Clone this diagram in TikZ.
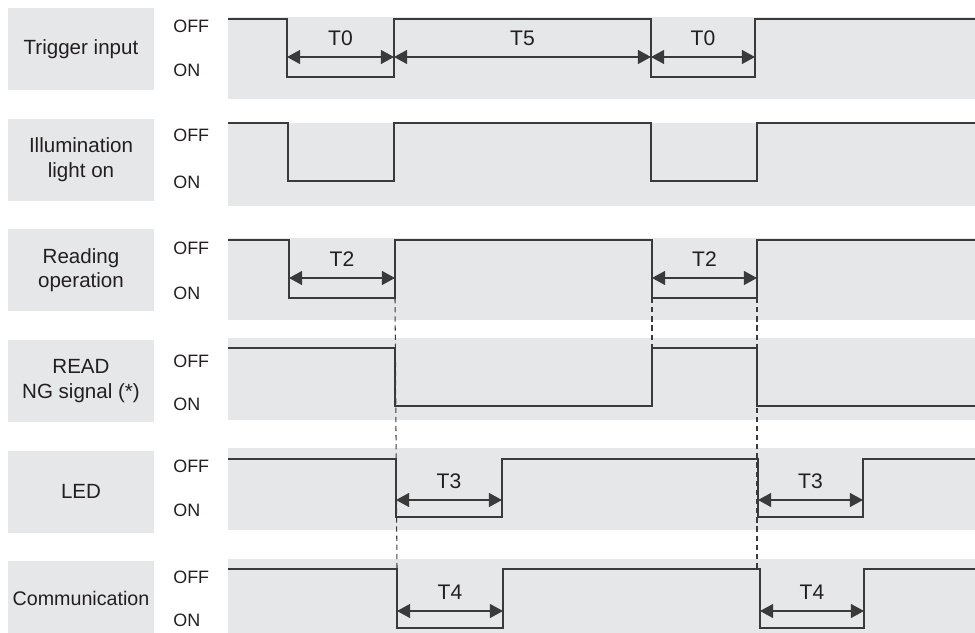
\documentclass[tikz,border=0pt]{standalone}
\usepackage{fontspec}
\setmainfont{Liberation Sans}
\usetikzlibrary{positioning, arrows.meta}
\definecolor{panelgray}{HTML}{E6E7E8}
\definecolor{wiregray}{HTML}{3A3A3A}
\definecolor{inkblack}{HTML}{231F20}

\begin{document}
\begin{tikzpicture}[x=0.02cm, y=-0.02cm, node distance=0.56cm,
  namebox/.style={fill=panelgray, minimum width=2.92cm, minimum height=1.64cm,
    align=center, inner sep=0pt, text=inkblack, font=\fontsize{11.7}{14}\selectfont},
  lvl/.style={anchor=west, inner sep=0pt, text=inkblack, font=\fontsize{10.2}{12}\selectfont},
  wave/.style={draw=wiregray, line width=0.7pt, line join=miter},
  span/.style={draw=wiregray, line width=0.65pt,
    {Triangle[length=7.5pt, width=8pt]}-{Triangle[length=7.5pt, width=8pt]}},
  tlbl/.style={above=0.22cm, inner sep=0pt, text=inkblack, font=\fontsize{12}{14}\selectfont},
  guide/.style={draw=wiregray, line width=0.6pt, dash pattern=on 3pt off 2.2pt}]
\useasboundingbox (0,0) rectangle (975,633);

% signal name boxes
\node[namebox] (trig) at (81,49) {Trigger input};
\node[namebox, below=of trig] (illum) {Illumination\\light on};
\node[namebox, below=of illum] (readop) {Reading\\operation};
\node[namebox, below=of readop] (readng) {READ\\NG signal (*)};
\node[namebox, below=of readng] (led) {LED};
\node[namebox, below=of led, minimum height=1.48cm,
      font=\fontsize{11.2}{14}\selectfont] (comm) {Communication};

% bands behind the waveforms
\fill[panelgray] (228,17) rectangle (975,99);
\fill[panelgray] (228,123) rectangle (975,206);
\fill[panelgray] (228,238) rectangle (975,320);
\fill[panelgray] (228,338) rectangle (975,420);
\fill[panelgray] (228,448) rectangle (975,530);
\fill[panelgray] (228,559) rectangle (975,633);

% OFF / ON levels
\node[lvl] (off1) at (173,26) {OFF};  \node[lvl] (on1) at (173,70) {ON};
\node[lvl] (off2) at (173,135) {OFF}; \node[lvl] (on2) at (173,182) {ON};
\node[lvl] (off3) at (173,248) {OFF}; \node[lvl] (on3) at (173,293) {ON};
\node[lvl] (off4) at (173,361) {OFF}; \node[lvl] (on4) at (173,404) {ON};
\node[lvl] (off5) at (173,466) {OFF}; \node[lvl] (on5) at (173,510) {ON};
\node[lvl] (off6) at (173,577) {OFF}; \node[lvl] (on6) at (173,620) {ON};

% waveforms
\draw[wave] (228,19) -- (287,19) -- (287,77) -- (394,77) -- (394,19) -- (651,19)
  -- (651,77) -- (755,77) -- (755,19) -- (975,19);
\draw[wave] (228,123) -- (288,123) -- (288,181) -- (394,181) -- (394,123) -- (651,123)
  -- (651,181) -- (757,181) -- (757,123) -- (975,123);
\draw[wave] (228,240) -- (289,240) -- (289,298) coordinate (rd1) -- (395,298) coordinate (rd2)
  -- (395,240) -- (652,240) -- (652,298) coordinate (rd3) -- (757,298) coordinate (rd4)
  -- (757,240) -- (975,240);
\draw[wave] (228,348) -- (395,348) -- (395,406) -- (652,406) -- (652,348) coordinate (ng1)
  -- (757,348) -- (757,406) -- (975,406);
\draw[wave] (228,459) -- (396,459) -- (396,517) -- (502,517) -- (502,459) -- (758,459)
  -- (758,517) -- (863,517) -- (863,459) -- (975,459);
\draw[wave] (228,569) -- (397,569) coordinate (cm1) -- (397,628) -- (503,628) -- (503,569)
  -- (760,569) coordinate (cm2) -- (760,628) -- (864,628) -- (864,569) -- (975,569);

% dashed guides
\draw[guide] (rd2) -- (cm1);
\draw[guide] (rd3) -- (ng1);
\draw[guide] (rd4) -- (rd4 |- cm2);

% timing spans
\coordinate (s1a) at (287,57); \coordinate (s1b) at (394,57);
\coordinate (s1c) at (651,57); \coordinate (s1d) at (755,57);
\draw[span] (s1a) -- node[tlbl] (t0a) {T0} (s1b);
\draw[span] (s1b) -- node[tlbl] (t5) {T5} (s1c);
\draw[span] (s1c) -- node[tlbl] (t0b) {T0} (s1d);

\coordinate (s3a) at (289,278); \coordinate (s3b) at (395,278);
\coordinate (s3c) at (652,278); \coordinate (s3d) at (757,278);
\draw[span] (s3a) -- node[tlbl] (t2a) {T2} (s3b);
\draw[span] (s3c) -- node[tlbl] (t2b) {T2} (s3d);

\coordinate (s5a) at (396,500); \coordinate (s5b) at (502,500);
\coordinate (s5c) at (758,500); \coordinate (s5d) at (863,500);
\draw[span] (s5a) -- node[tlbl] (t3a) {T3} (s5b);
\draw[span] (s5c) -- node[tlbl] (t3b) {T3} (s5d);

\coordinate (s6a) at (397,611); \coordinate (s6b) at (503,611);
\coordinate (s6c) at (760,611); \coordinate (s6d) at (864,611);
\draw[span] (s6a) -- node[tlbl] (t4a) {T4} (s6b);
\draw[span] (s6c) -- node[tlbl] (t4b) {T4} (s6d);
\end{tikzpicture}
\end{document}
